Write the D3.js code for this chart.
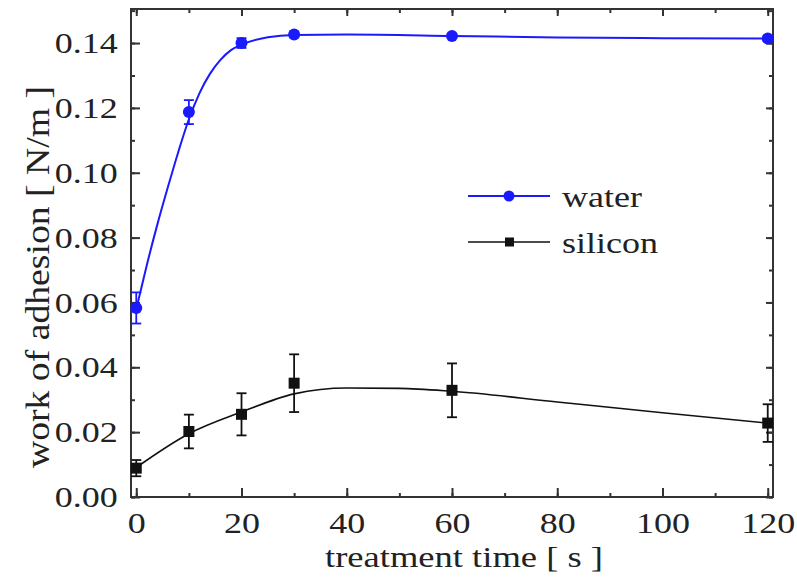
<!DOCTYPE html>
<html>
<head>
<meta charset="utf-8">
<script src="https://cdn.jsdelivr.net/npm/d3@7"></script>
<style>
  body { margin: 0; background: #fff; }
  text { font-family: "Liberation Serif", "DejaVu Serif", serif; fill: #222; }
</style>
</head>
<body>
<svg id="chart" width="797" height="583"></svg>
<script>
// measured points (treatment time in s, work of adhesion in N/m)
const times = [0, 10, 20, 30, 60, 120];
const waterValues = [0.0583, 0.1187, 0.1400, 0.1426, 0.1422, 0.1414];
const waterErrors = [0.0048, 0.0037, 0.0015, 0.0008, 0.0005, 0.0008];
const siliconValues = [0.0089, 0.0202, 0.0255, 0.0351, 0.0329, 0.0228];
const siliconErrors = [0.0025, 0.0052, 0.0065, 0.0089, 0.0083, 0.0058];

// fitted curves
const waterFitTimes = [0, 2, 4, 6, 8, 10, 12, 14, 16, 18, 20, 25, 30, 40, 60, 80, 100, 120];
const waterFitValues = [0.058, 0.0715, 0.084, 0.0955, 0.1065, 0.1165, 0.1245, 0.1305, 0.1348, 0.1378, 0.1395, 0.1418, 0.1425, 0.1426, 0.1422, 0.1417, 0.1415, 0.1414];
const siliconFitTimes = [0, 10, 20, 30, 40, 50, 60, 80, 100, 120];
const siliconFitValues = [0.0091, 0.0195, 0.0262, 0.0318, 0.0336, 0.0335, 0.0326, 0.0293, 0.026, 0.0228];

const xTicks = [0, 20, 40, 60, 80, 100, 120];
const yTicks = [0, 0.02, 0.04, 0.06, 0.08, 0.10, 0.12, 0.14];
const legendLabels = ['water', 'silicon'];

const blue = '#1a1aff';
const black = '#111';
const stretch = 1.2;

const svg = d3.select('#chart');
const margin = {top: 9, right: 24, bottom: 86, left: 131};
const width = 797 - margin.left - margin.right;
const height = 583 - margin.top - margin.bottom;

const x = d3.scaleLinear().domain([-1, 121]).range([margin.left, margin.left + width]);
const y = d3.scaleLinear().domain([0, 0.1505]).range([margin.top + height, margin.top]);

const water = times.map((t, i) => ({t, v: waterValues[i], e: waterErrors[i]}));
const silicon = times.map((t, i) => ({t, v: siliconValues[i], e: siliconErrors[i]}));
const waterFit = waterFitTimes.map((t, i) => ({t, v: waterFitValues[i]}));
const siliconFit = siliconFitTimes.map((t, i) => ({t, v: siliconFitValues[i]}));

// axes, ticks pointing inward on all four sides
const axisG = svg.append('g').attr('class', 'axes');
const minorX = d3.range(0, 121, 10);
const minorY = d3.range(0, 0.1501, 0.01);

function styleAxis(g) {
  g.select('.domain').remove();
  g.selectAll('line').attr('stroke', '#333').attr('stroke-width', 2);
}

axisG.append('g').attr('transform', `translate(0,${margin.top + height})`)
  .call(d3.axisBottom(x).tickValues(minorX).tickSize(-4).tickFormat(''))
  .call(styleAxis);
axisG.append('g').attr('transform', `translate(0,${margin.top + height})`)
  .call(d3.axisBottom(x).tickValues(xTicks).tickSize(-9).tickPadding(15).tickFormat(d3.format('d')))
  .call(styleAxis)
  .call(g => g.selectAll('text').attr('font-size', 30).attr('fill', '#222')
    .attr('transform', `scale(${stretch},1)`));
axisG.append('g').attr('transform', `translate(0,${margin.top})`)
  .call(d3.axisTop(x).tickValues(minorX).tickSize(-4).tickFormat(''))
  .call(styleAxis);
axisG.append('g').attr('transform', `translate(0,${margin.top})`)
  .call(d3.axisTop(x).tickValues(xTicks).tickSize(-7).tickFormat(''))
  .call(styleAxis);

axisG.append('g').attr('transform', `translate(${margin.left},0)`)
  .call(d3.axisLeft(y).tickValues(minorY).tickSize(-4).tickFormat(''))
  .call(styleAxis);
axisG.append('g').attr('transform', `translate(${margin.left},0)`)
  .call(d3.axisLeft(y).tickValues(yTicks).tickSize(-9).tickPadding(11).tickFormat(d3.format('.2f')))
  .call(styleAxis)
  .call(g => g.selectAll('text').attr('font-size', 30).attr('fill', '#222')
    .attr('transform', `scale(${stretch},1)`));
axisG.append('g').attr('transform', `translate(${margin.left + width},0)`)
  .call(d3.axisRight(y).tickValues(minorY).tickSize(-4).tickFormat(''))
  .call(styleAxis);
axisG.append('g').attr('transform', `translate(${margin.left + width},0)`)
  .call(d3.axisRight(y).tickValues(yTicks).tickSize(-7).tickFormat(''))
  .call(styleAxis);

axisG.append('rect')
  .attr('x', margin.left).attr('y', margin.top)
  .attr('width', width).attr('height', height)
  .attr('fill', 'none').attr('stroke', '#333').attr('stroke-width', 2);

// axis titles
svg.append('text')
  .attr('x', 464).attr('y', 567)
  .attr('text-anchor', 'middle').attr('font-size', 30)
  .attr('textLength', 278).attr('lengthAdjust', 'spacingAndGlyphs')
  .text('treatment time [ s ]');

svg.append('text')
  .attr('transform', 'translate(49,277) rotate(-90)')
  .attr('text-anchor', 'middle').attr('font-size', 33)
  .attr('textLength', 382).attr('lengthAdjust', 'spacingAndGlyphs')
  .text('work of adhesion [ N/m ]');

// fitted lines
const line = d3.line().x(d => x(d.t)).y(d => y(d.v)).curve(d3.curveMonotoneX);
const plot = svg.append('g').attr('class', 'plot');

plot.append('path').datum(siliconFit)
  .attr('d', line).attr('fill', 'none').attr('stroke', black).attr('stroke-width', 1.6);
plot.append('path').datum(waterFit)
  .attr('d', line).attr('fill', 'none').attr('stroke', blue).attr('stroke-width', 2);

// error bars and markers
function drawSeries(data, color, shape, size) {
  const g = plot.append('g');
  const bars = g.selectAll('g.err').data(data).join('g').attr('class', 'err')
    .attr('stroke', color).attr('stroke-width', 1.8);
  bars.append('line')
    .attr('x1', d => x(d.t)).attr('x2', d => x(d.t))
    .attr('y1', d => y(d.v - d.e)).attr('y2', d => y(d.v + d.e));
  [-1, 1].forEach(s => {
    bars.append('line')
      .attr('x1', d => x(d.t) - 5).attr('x2', d => x(d.t) + 5)
      .attr('y1', d => y(d.v + s * d.e)).attr('y2', d => y(d.v + s * d.e));
  });
  if (shape === 'circle') {
    g.selectAll('circle').data(data).join('circle')
      .attr('cx', d => x(d.t)).attr('cy', d => y(d.v)).attr('r', size / 2)
      .attr('fill', color);
  } else {
    g.selectAll('rect.m').data(data).join('rect').attr('class', 'm')
      .attr('x', d => x(d.t) - size / 2).attr('y', d => y(d.v) - size / 2)
      .attr('width', size).attr('height', size).attr('fill', color);
  }
}
drawSeries(silicon, black, 'square', 11);
drawSeries(water, blue, 'circle', 12);

// legend
const legend = svg.append('g').attr('class', 'legend');
const legendRows = [
  {label: legendLabels[0], color: blue, shape: 'circle', y: 196},
  {label: legendLabels[1], color: black, shape: 'square', y: 242}
];
legendRows.forEach(r => {
  const row = legend.append('g');
  row.append('line').attr('x1', 468).attr('x2', 550).attr('y1', r.y).attr('y2', r.y)
    .attr('stroke', r.color).attr('stroke-width', r.shape === 'circle' ? 2 : 1.6);
  if (r.shape === 'circle') {
    row.append('circle').attr('cx', 509).attr('cy', r.y).attr('r', 5.5).attr('fill', r.color);
  } else {
    row.append('rect').attr('x', 505).attr('y', r.y - 4.5).attr('width', 9).attr('height', 9).attr('fill', r.color);
  }
  row.append('text')
    .attr('transform', `translate(562,${r.y + 11}) scale(${stretch},1)`)
    .attr('font-size', 30)
    .text(r.label);
});
</script>
</body>
</html>
